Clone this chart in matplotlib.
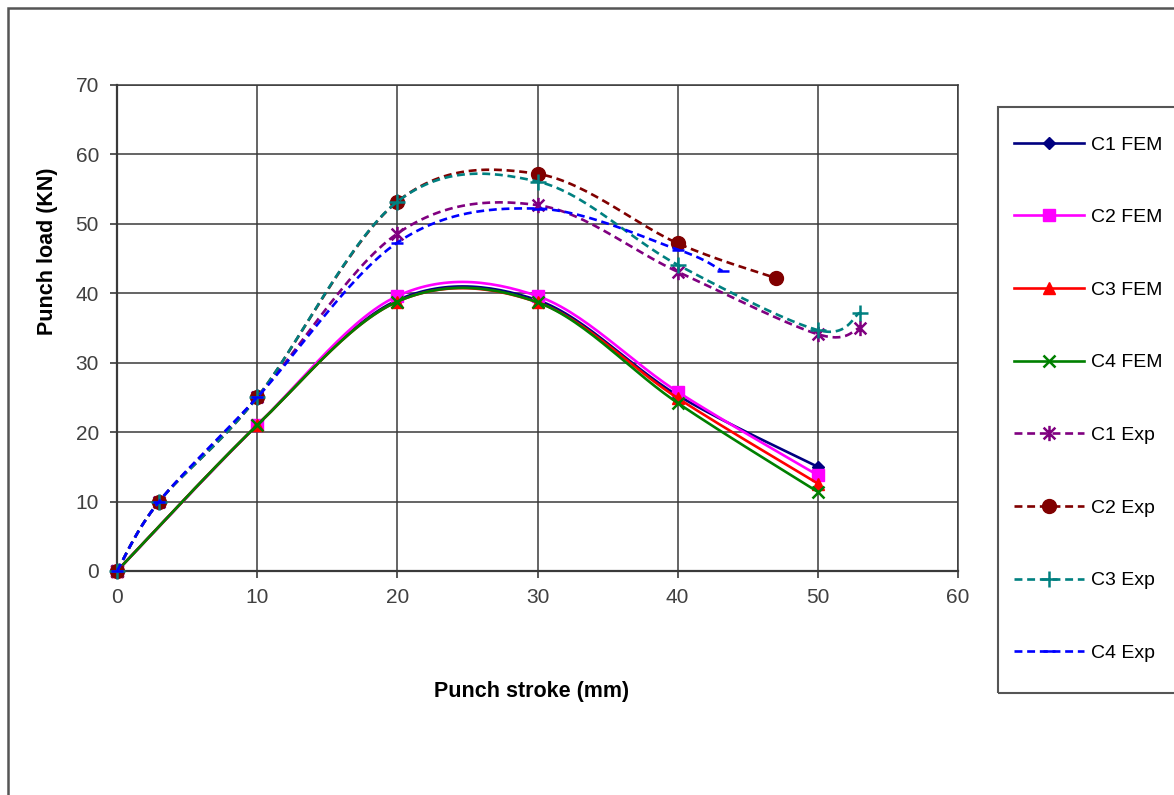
# punch load vs punch stroke, FEM vs experiment
import numpy as np
import matplotlib.pyplot as plt
from matplotlib.path import Path
from matplotlib.patches import Rectangle

plt.rcParams['font.family'] = ['Liberation Sans', 'DejaVu Sans']

W, H = 1174, 795

# FEM results (no point at 3 mm)
x_fem = [0, 10, 20, 30, 40, 50]
c1_fem = [0, 21, 39, 39, 25.3, 15]
c2_fem = [0, 21, 39.6, 39.6, 25.8, 13.8]
c3_fem = [0, 21, 38.8, 38.7, 24.9, 12.6]
c4_fem = [0, 21, 38.8, 38.7, 24.2, 11.4]

# experimental results
x_c1_exp = [0, 3, 10, 20, 30, 40, 50, 53]
c1_exp = [0, 10, 25, 48.6, 52.7, 43.1, 34.1, 35]
x_c2_exp = [0, 3, 10, 20, 30, 40, 47]
c2_exp = [0, 10, 25, 53.2, 57.2, 47.2, 42.2]
x_c3_exp = [0, 3, 10, 20, 30, 40, 50, 53]
c3_exp = [0, 10, 25, 53.2, 56.1, 44.1, 34.7, 37.2]
x_c4_exp = [0, 3, 10, 20, 30, 40, 43.2]
c4_exp = [0, 10, 25, 47.3, 52.2, 46.3, 43.2]

labels = ['C1 FEM', 'C2 FEM', 'C3 FEM', 'C4 FEM', 'C1 Exp', 'C2 Exp', 'C3 Exp', 'C4 Exp']


# excel style smoothing (bezier, catmull-rom control points)
def smooth(xs, ys, n=30):
    p = np.column_stack([xs, ys]).astype(float)
    ext = np.vstack([p[0], p, p[-1]])
    out = []
    t = np.linspace(0, 1, n, endpoint=False)[:, None]
    for i in range(len(p) - 1):
        p0 = ext[i + 1]
        p3 = ext[i + 2]
        c1 = p0 + (ext[i + 2] - ext[i]) / 6
        c2 = p3 - (ext[i + 3] - ext[i + 1]) / 6
        seg = (1 - t) ** 3 * p0 + 3 * (1 - t) ** 2 * t * c1 + 3 * (1 - t) * t ** 2 * c2 + t ** 3 * p3
        out.append(seg)
    out.append(p[-1:])
    out = np.vstack(out)
    marks = list(range(0, n * (len(p) - 1) + 1, n))
    return out[:, 0], out[:, 1], marks


# excel star marker: x with a vertical bar
star = Path([(-1, -1), (1, 1), (-1, 1), (1, -1), (0, -1.3), (0, 1.3)],
            [Path.MOVETO, Path.LINETO, Path.MOVETO, Path.LINETO, Path.MOVETO, Path.LINETO])

series = [
    (x_fem, c1_fem, '#000080', '-', 'D', 6),
    (x_fem, c2_fem, '#FF00FF', '-', 's', 9),
    (x_fem, c3_fem, '#FF0000', '-', '^', 8),
    (x_fem, c4_fem, '#008000', '-', 'x', 8),
    (x_c1_exp, c1_exp, '#800080', '--', star, 11),
    (x_c2_exp, c2_exp, '#800000', '--', 'o', 10),
    (x_c3_exp, c3_exp, '#008080', '--', '+', 11),
    (x_c4_exp, c4_exp, '#0000FF', '--', '_', 9),
]

fig = plt.figure(figsize=(W / 100, H / 100), dpi=100)
ax = fig.add_axes([117 / W, 1 - 571 / H, (958 - 117) / W, (571 - 85) / H])

handles = []
for (xs, ys, col, ls, mk, ms), lab in zip(series, labels):
    sx, sy, marks = smooth(xs, ys)
    h, = ax.plot(sx, sy, color=col, lw=1.9, linestyle=ls, dashes=(3, 1.8) if ls == '--' else (None, None),
                 marker=mk, markevery=marks, markersize=ms, markerfacecolor=col,
                 markeredgecolor=col, markeredgewidth=1.8 if mk in ('x', '+', '_') or mk is star else 1,
                 label=lab, clip_on=False, zorder=3)
    handles.append(h)

ax.set_xlim(0, 60)
ax.set_ylim(0, 70)
ax.set_xticks(range(0, 61, 10))
ax.set_yticks(range(0, 71, 10))
ax.grid(True, color='#3a3a3a', lw=1.1)
ax.set_axisbelow(True)
for s in ax.spines.values():
    s.set_color('#3a3a3a')
    s.set_linewidth(1.1)
ax.spines['left'].set_linewidth(1.6)
ax.spines['bottom'].set_linewidth(1.6)
ax.tick_params(direction='out', length=5, width=1.2, colors='#3a3a3a', labelsize=15,
               labelcolor='#404040')
ax.tick_params(axis='y', pad=8)
ax.tick_params(axis='x', pad=7)

fig.text(532 / W, 1 - 692 / H, 'Punch stroke (mm)', fontsize=15.5, fontweight='bold',
         ha='center', va='center')
fig.text(48 / W, 1 - 251 / H, 'Punch load (KN)', fontsize=15.5, fontweight='bold',
         ha='center', va='center', rotation=90)

# legend box, cut off on the right like the original
fig.patches.append(Rectangle((998 / W, 1 - 693 / H), 0.2, (693 - 107) / H, transform=fig.transFigure,
                             fill=False, edgecolor='#555555', lw=1.5, clip_on=False))
# outer chart border
fig.patches.append(Rectangle((7.5 / W, -0.1), 1.1, 1.1 - 8 / H, transform=fig.transFigure,
                             fill=False, edgecolor='#555555', lw=1.8, clip_on=False))

fig.legend(handles=handles, loc='upper left', bbox_to_anchor=(0.849, 0.851), frameon=False,
           fontsize=14, handlelength=3.6, labelspacing=2.83, handletextpad=0.35)

fig.savefig('out.png', dpi=100)
